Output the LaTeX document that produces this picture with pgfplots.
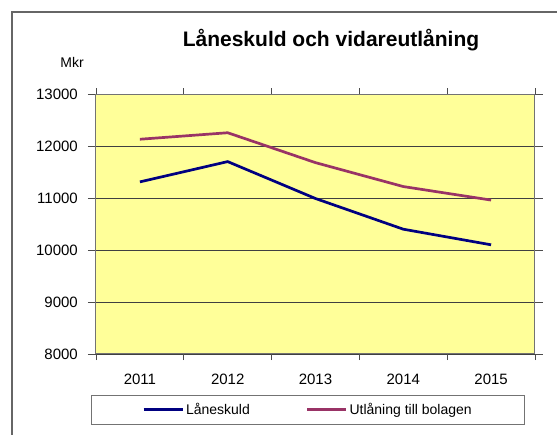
\documentclass[border=0pt]{standalone}
\usepackage{pgfplots}
\pgfplotsset{compat=1.18}
\usepackage{fontspec}
\setmainfont{Liberation Sans}
\definecolor{lblue}{RGB}{0,0,128}
\definecolor{lplum}{RGB}{153,51,102}
\definecolor{pyellow}{RGB}{255,255,153}
\begin{document}
\begin{tikzpicture}[x=1pt,y=1pt]
\useasboundingbox (0,0) rectangle (557,434);
\fill[white] (0,0) rectangle (557,434);
\draw[black!60, line width=1.5pt] (12,-20) -- (12,422) -- (600,422);
\node[font=\fontsize{21}{25}\selectfont\bfseries] at (331,394) {Låneskuld och vidareutlåning};
\node[font=\fontsize{14}{17}\selectfont] at (72,372) {Mkr};
\begin{axis}[
  at={(96pt,80pt)}, anchor=south west,
  scale only axis, width=439pt, height=260pt,
  xmin=-0.5, xmax=4.5, ymin=8000, ymax=13000,
  scaled ticks=false,
  xtick={0,1,2,3,4},
  xticklabels={2011,2012,2013,2014,2015},
  minor xtick={-0.5,0.5,1.5,2.5,3.5,4.5},
  ytick={8000,9000,10000,11000,12000,13000},
  major x tick style={draw=none},
  tick align=outside,
  minor tick length=6pt,
  major tick length=8pt,
  tick style={black!70, line width=0.8pt},
  /pgf/number format/assume math mode=true,
  /pgf/number format/1000 sep={},
  ticklabel style={font=\fontsize{15}{18}\selectfont},
  yticklabel style={inner sep=0pt, xshift=-10pt},
  xticklabel style={inner sep=0pt, yshift=-12pt},
  axis background/.style={fill=pyellow},
  axis line style={black!55, line width=1pt},
  ymajorgrids,
  major grid style={black!75, line width=0.9pt},
  clip=false,
  legend columns=2,
  legend style={at={(0.483,-0.1577)}, anchor=north, draw=black!55, line width=0.8pt,
    font=\fontsize{14}{17}\selectfont, inner xsep=51pt, inner ysep=6pt,
    /tikz/every even column/.append style={column sep=54pt}},
  legend image code/.code={\draw[#1] (0pt,0pt) -- (39pt,0pt);},
]
\addplot[lblue, line width=2.7pt] coordinates {(0,11310) (1,11700) (2,10990) (3,10400) (4,10100)};
\addlegendentry{Låneskuld}
\addplot[lplum, line width=2.7pt] coordinates {(0,12130) (1,12255) (2,11680) (3,11220) (4,10960)};
\addlegendentry{Utlåning till bolagen}
\end{axis}
\end{tikzpicture}
\end{document}
